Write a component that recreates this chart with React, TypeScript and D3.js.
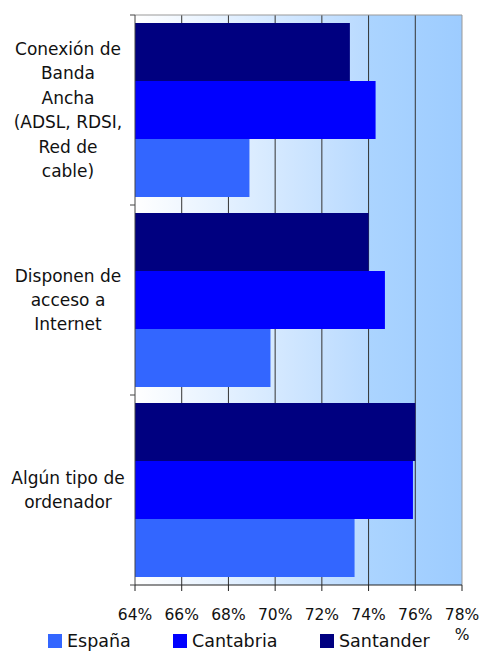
import React from "react";
import * as d3 from "d3";

const categories = [
  ["Conexión de", "Banda", "Ancha", "(ADSL, RDSI,", "Red de", "cable)"],
  ["Disponen de", "acceso a", "Internet"],
  ["Algún tipo de", "ordenador"],
];
const seriesNames = ["Santander", "Cantabria", "España"];
const santander = [73.2, 74.0, 76.0];
const cantabria = [74.3, 74.7, 75.9];
const espana = [68.9, 69.8, 73.4];
const xTicks = [64, 66, 68, 70, 72, 74, 76, 78];
const colors = ["#000080", "#0000FF", "#3366FF"];

const W = 481, H = 651;
const left = 135, right = 462, top = 15, bottom = 585;
const FONT = "'DejaVu Sans', sans-serif";

export default function App() {
  const x = d3.scaleLinear().domain([64, 78]).range([left, right]);
  const y0 = d3.scaleBand<number>().domain([0, 1, 2]).range([top, bottom]).paddingInner(16 / 190).paddingOuter(8 / 190);
  const y1 = d3.scaleBand<number>().domain([0, 1, 2]).range([0, y0.bandwidth()]);
  const series = [santander, cantabria, espana];
  const bandStep = (bottom - top) / 3;
  const legend = [
    { name: seriesNames[2], color: colors[2], x: 48 },
    { name: seriesNames[1], color: colors[1], x: 173 },
    { name: seriesNames[0], color: colors[0], x: 320 },
  ];
  return (
    <svg width={W} height={H} style={{ position: "absolute", left: 0, top: 0 }}>
      <defs>
        <linearGradient id="bg" x1="0" x2="1" y1="0" y2="0">
          <stop offset="0" stopColor="#FFFFFF" />
          <stop offset="0.71" stopColor="#B9DAFF" />
          <stop offset="0.715" stopColor="#ABD4FF" />
          <stop offset="1" stopColor="#9DCCFF" />
        </linearGradient>
      </defs>
      <rect x={left} y={top} width={right - left} height={bottom - top} fill="url(#bg)" />
      {xTicks.slice(1, -1).map((t) => (
        <line key={t} x1={x(t)} x2={x(t)} y1={top} y2={bottom} stroke="#333" strokeWidth={1} />
      ))}
      <line x1={left} x2={right} y1={top} y2={top} stroke="#999" strokeWidth={1} />
      <line x1={right} x2={right} y1={top} y2={bottom} stroke="#999" strokeWidth={1} />
      {series.map((vals, si) =>
        vals.map((v, ci) => (
          <rect
            key={si + "-" + ci}
            x={x(64)}
            y={(y0(ci) ?? 0) + (y1(si) ?? 0)}
            width={x(v) - x(64)}
            height={y1.bandwidth()}
            fill={colors[si]}
          />
        ))
      )}
      <line x1={left} x2={left} y1={top} y2={bottom} stroke="#444" strokeWidth={1} />
      <line x1={left} x2={right} y1={bottom} y2={bottom} stroke="#222" strokeWidth={1} />
      {[0, 1, 2, 3].map((i) => (
        <line key={i} x1={left - 5} x2={left} y1={top + i * bandStep} y2={top + i * bandStep} stroke="#444" />
      ))}
      {xTicks.map((t) => (
        <line key={t} x1={x(t)} x2={x(t)} y1={bottom} y2={bottom + 6} stroke="#222" />
      ))}
      {xTicks.map((t) => (
        <text key={t} x={x(t)} y={620} textAnchor="middle" fontFamily={FONT} fontSize={15.5} fill="#111">
          {t + "%"}
        </text>
      ))}
      <text x={x(78)} y={640} textAnchor="middle" fontFamily={FONT} fontSize={15.5} fill="#111">%</text>
      {categories.map((lines, ci) => {
        const cy = (y0(ci) ?? 0) + y0.bandwidth() / 2;
        const lh = 24.4;
        const start = cy - ((lines.length - 1) * lh) / 2;
        return (
          <text key={ci} textAnchor="middle" fontFamily={FONT} fontSize={17} fill="#111">
            {lines.map((l, li) => (
              <tspan key={li} x={68} y={start + li * lh + 6}>{l}</tspan>
            ))}
          </text>
        );
      })}
      {legend.map((l) => (
        <g key={l.name}>
          <rect x={l.x} y={634} width={14} height={14} fill={l.color} />
          <text x={l.x + 19} y={647} fontFamily={FONT} fontSize={17.5} fill="#111">{l.name}</text>
        </g>
      ))}
    </svg>
  );
}
